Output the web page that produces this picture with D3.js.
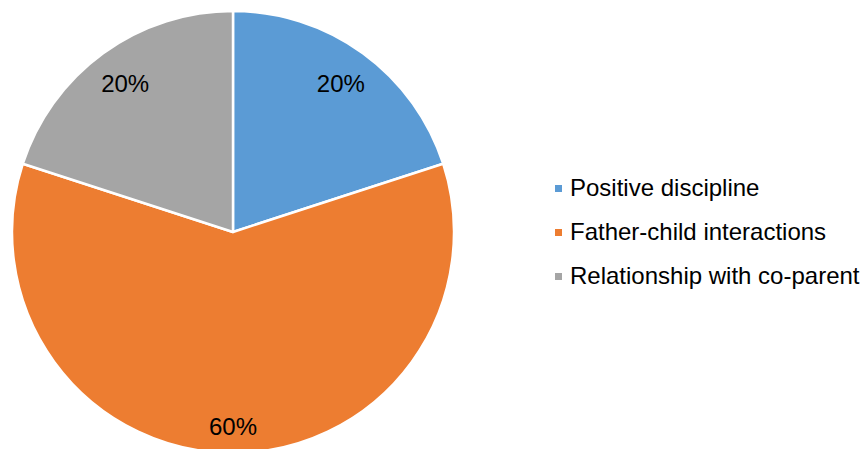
<!DOCTYPE html>
<html>
<head>
<meta charset="utf-8">
<script src="https://cdn.jsdelivr.net/npm/d3@7"></script>
<style>
  body { margin: 0; background: #fff; }
  svg { display: block; font-family: "Liberation Sans", Arial, sans-serif; }
</style>
</head>
<body>
<div id="chart"></div>
<script>
// data
const categories = ["Positive discipline", "Father-child interactions", "Relationship with co-parent"]
const values = [20, 60, 20]
const colors = ["#5b9bd5", "#ed7d31", "#a5a5a5"]

const width = 862
const height = 449
const cx = 233, cy = 232, radius = 221

const svg = d3.select("#chart").append("svg")
    .attr("width", width)
    .attr("height", height)

const pie = d3.pie().sort(null).value(d => d)
const arcs = pie(values)

const arc = d3.arc().innerRadius(0).outerRadius(radius)

const g = svg.append("g").attr("transform", `translate(${cx},${cy})`)

g.selectAll("path")
  .data(arcs)
  .enter().append("path")
    .attr("d", arc)
    .attr("fill", (d, i) => colors[i])
    .attr("stroke", "#fff")
    .attr("stroke-width", 2.5)
    .attr("stroke-linejoin", "round")

g.selectAll("text")
  .data(arcs)
  .enter().append("text")
    .attr("transform", (d, i) => {
        // big slice label sits nearer the edge
        const r = radius * (i === 1 ? 0.88 : 0.83)
        const a = (d.startAngle + d.endAngle) / 2
        return `translate(${Math.sin(a) * r},${-Math.cos(a) * r})`
    })
    .attr("text-anchor", "middle")
    .attr("dy", "0.35em")
    .attr("font-size", 24)
    .attr("fill", "#000")
    .text(d => d.data + "%")

// legend
const legend = svg.append("g").attr("transform", "translate(555,188)")
const rowGap = 44

const rows = legend.selectAll("g")
  .data(categories)
  .enter().append("g")
    .attr("transform", (d, i) => `translate(0,${i * rowGap})`)

rows.append("rect")
    .attr("x", 0)
    .attr("y", -3)
    .attr("width", 7)
    .attr("height", 7)
    .attr("fill", (d, i) => colors[i])

rows.append("text")
    .attr("x", 15)
    .attr("dy", "0.35em")
    .attr("font-size", 24)
    .attr("fill", "#000")
    .text(d => d)
</script>
</body>
</html>
